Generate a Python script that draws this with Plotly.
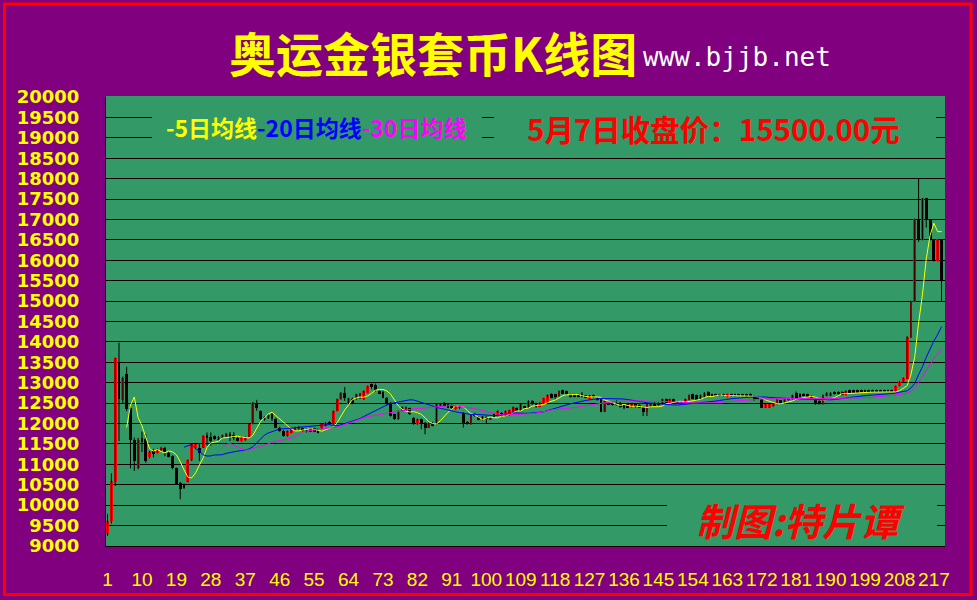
import plotly.graph_objects as go
import pandas as pd

# ---------------- data ----------------
day = list(range(1, 220))

open_p = [
    9300, 9614, 10580, 13510, 12580, 13210, 12390, 11590, 10900, 11640,
    11616, 11190, 11346, 11290, 11346, 11410, 11290, 11207, 10905, 10554,
    10510, 10578, 11101, 11395, 11412, 11412, 11720, 11672, 11690, 11600,
    11656, 11672, 11755, 11714, 11656, 11575, 11590, 11672, 11998, 12514,
    12310, 12082, 12130, 12228, 12122, 11901, 11819, 11697, 11779, 11836,
    11860, 11885, 11795, 11885, 11885, 11860, 11885, 11942, 12048, 11983,
    12310, 12595, 12759, 12473, 12595, 12595, 12620, 12595, 12759, 12963,
    12946, 12800, 12783, 12636, 12514, 12228, 12105, 12310, 12326, 12375,
    12146, 11983, 12105, 12024, 11901, 12024, 11983, 12432, 12514, 12473,
    12456, 12350, 12375, 12269, 12040, 11983, 12244, 12162, 12081, 12170,
    12105, 12244, 12203, 12269, 12187, 12203, 12285, 12391, 12310, 12432,
    12391, 12555, 12497, 12407, 12489, 12514, 12718, 12718, 12677, 12816,
    12800, 12718, 12718, 12718, 12734, 12693, 12595, 12702, 12636, 12595,
    12293, 12514, 12514, 12514, 12514, 12489, 12489, 12407, 12473, 12456,
    12407, 12293, 12407, 12514, 12514, 12497, 12595, 12497, 12595, 12538,
    12538, 12497, 12579, 12718, 12702, 12595, 12636, 12775, 12718, 12718,
    12718, 12718, 12652, 12718, 12718, 12718, 12718, 12718, 12734, 12677,
    12652, 12595, 12391, 12391, 12424, 12473, 12571, 12489, 12620, 12595,
    12759, 12734, 12734, 12718, 12677, 12595, 12555, 12473, 12677, 12677,
    12783, 12783, 12775, 12702, 12824, 12824, 12824, 12824, 12824, 12824,
    12824, 12824, 12824, 12824, 12824, 12824, 12783, 12922, 13030, 13086,
    14106, 14988, 17005, 16499, 17520, 17005, 16515, 15984, 16500,
]

high_p = [
    9786, 10782, 13616, 13980, 13150, 13390, 12430, 11656, 11650, 11800,
    11740, 11330, 11380, 11390, 11430, 11430, 11310, 11220, 10920, 10570,
    10530, 11120, 11510, 11500, 11500, 11710, 11780, 11780, 11710, 11690,
    11730, 11770, 11795, 11790, 11670, 11690, 11690, 12010, 12530, 12580,
    12320, 12180, 12230, 12280, 12140, 11920, 11840, 11830, 11880, 11920,
    11940, 11900, 11880, 11900, 11900, 11880, 12010, 12040, 12060, 12320,
    12610, 12770, 12897, 12630, 12636, 12730, 12750, 12810, 12930, 12979,
    12979, 12810, 12800, 12650, 12530, 12240, 12320, 12420, 12420, 12390,
    12160, 12120, 12120, 12040, 12040, 12040, 12500, 12500, 12530, 12490,
    12470, 12450, 12450, 12280, 12060, 12240, 12260, 12180, 12190, 12180,
    12160, 12260, 12320, 12280, 12320, 12340, 12420, 12400, 12480, 12440,
    12570, 12570, 12510, 12530, 12630, 12710, 12740, 12730, 12810, 12830,
    12810, 12730, 12730, 12730, 12775, 12700, 12700, 12710, 12650, 12610,
    12570, 12530, 12530, 12571, 12530, 12500, 12500, 12500, 12480, 12470,
    12420, 12480, 12490, 12530, 12520, 12610, 12610, 12610, 12610, 12550,
    12550, 12610, 12710, 12730, 12710, 12710, 12770, 12790, 12730, 12730,
    12730, 12730, 12730, 12730, 12730, 12730, 12730, 12730, 12740, 12690,
    12660, 12610, 12480, 12480, 12500, 12610, 12580, 12630, 12630, 12710,
    12783, 12740, 12740, 12730, 12690, 12610, 12570, 12710, 12770, 12770,
    12790, 12790, 12790, 12810, 12830, 12830, 12830, 12830, 12830, 12830,
    12830, 12830, 12830, 12830, 12830, 12830, 12930, 13040, 13130, 14140,
    15010, 17022, 17993, 17520, 17530, 17010, 16520, 16520, 16520,
]

low_p = [
    9247, 9550, 10470, 11570, 12500, 12300, 10900, 10840, 10880, 11300,
    11040, 11150, 11170, 11270, 11330, 11200, 11170, 10880, 10500, 10145,
    10400, 10560, 11080, 11380, 11080, 11400, 11460, 11460, 11600, 11590,
    11640, 11660, 11570, 11590, 11560, 11560, 11575, 11660, 11980, 12310,
    12090, 12070, 12110, 12060, 11890, 11800, 11680, 11680, 11760, 11820,
    11850, 11800, 11780, 11790, 11790, 11760, 11870, 11930, 11970, 11970,
    12300, 12580, 12554, 12460, 12473, 12580, 12600, 12580, 12740, 12840,
    12783, 12720, 12620, 12450, 12170, 12090, 12090, 12300, 12310, 12210,
    11970, 11970, 11860, 11738, 11890, 11930, 11970, 12420, 12420, 12380,
    12360, 12340, 12360, 11901, 11970, 11970, 12170, 12080, 12070, 12007,
    12090, 12150, 12190, 12170, 12170, 12190, 12270, 12300, 12300, 12360,
    12380, 12460, 12390, 12400, 12480, 12500, 12620, 12595, 12660, 12720,
    12700, 12640, 12640, 12640, 12640, 12620, 12580, 12640, 12560, 12280,
    12280, 12460, 12440, 12440, 12390, 12350, 12380, 12390, 12390, 12380,
    12187, 12187, 12400, 12420, 12440, 12490, 12500, 12490, 12530, 12480,
    12480, 12490, 12570, 12590, 12570, 12590, 12630, 12670, 12670, 12670,
    12670, 12670, 12640, 12660, 12660, 12670, 12660, 12640, 12660, 12560,
    12590, 12380, 12380, 12380, 12410, 12460, 12480, 12480, 12560, 12590,
    12630, 12640, 12670, 12640, 12610, 12460, 12460, 12460, 12670, 12670,
    12710, 12710, 12690, 12690, 12740, 12750, 12750, 12770, 12775, 12770,
    12770, 12770, 12770, 12770, 12770, 12775, 12775, 12910, 13020, 13080,
    14100, 14980, 16450, 16490, 16801, 16480, 15970, 15970, 14980,
]

close_p = [
    9614, 10594, 13616, 12590, 13110, 12350, 11590, 11080, 11600, 11560,
    11084, 11305, 11264, 11360, 11410, 11300, 11190, 10905, 10530, 10390,
    10420, 11101, 11493, 11493, 11290, 11697, 11656, 11575, 11616, 11672,
    11714, 11755, 11656, 11656, 11575, 11672, 11672, 11998, 12514, 12391,
    12106, 12163, 12212, 12106, 11901, 11820, 11697, 11819, 11860, 11901,
    11926, 11819, 11860, 11803, 11803, 11779, 12000, 12024, 11983, 12310,
    12595, 12759, 12636, 12620, 12514, 12718, 12740, 12800, 12922, 12897,
    12816, 12734, 12636, 12514, 12187, 12105, 12310, 12407, 12407, 12228,
    11983, 12105, 11983, 11901, 12024, 11942, 12489, 12489, 12432, 12391,
    12375, 12432, 12432, 11983, 11983, 12228, 12187, 12097, 12179, 12105,
    12146, 12170, 12310, 12187, 12310, 12326, 12407, 12310, 12473, 12375,
    12555, 12473, 12407, 12514, 12620, 12702, 12636, 12652, 12800, 12734,
    12718, 12652, 12652, 12652, 12652, 12636, 12693, 12652, 12571, 12293,
    12555, 12473, 12448, 12456, 12407, 12391, 12391, 12489, 12407, 12391,
    12293, 12473, 12473, 12432, 12456, 12595, 12514, 12595, 12538, 12489,
    12489, 12595, 12702, 12595, 12579, 12702, 12759, 12677, 12677, 12677,
    12677, 12677, 12718, 12669, 12669, 12677, 12669, 12652, 12669, 12571,
    12595, 12391, 12473, 12473, 12489, 12595, 12489, 12620, 12571, 12702,
    12636, 12652, 12677, 12652, 12620, 12473, 12473, 12702, 12759, 12759,
    12718, 12718, 12702, 12800, 12750, 12759, 12759, 12775, 12783, 12775,
    12775, 12775, 12775, 12775, 12775, 12783, 12922, 13030, 13125, 14130,
    15004, 17022, 16499, 17520, 17005, 16491, 15984, 16515, 15500,
]

tick_days = list(range(1, 218, 9))
price_ticks = list(range(9000, 20001, 500))
ma_periods = [5, 20, 30]
ma_colors = ["#FFFF00", "#0000FF", "#FF00FF"]

title_text = "奥运金银套币K线图"
site_text = "www.bjjb.net"
legend_labels = ["-5日均线", "-20日均线", "-30日均线"]
price_text = "5月7日收盘价：15500.00元"
credit_text = "制图:特片谭"

# ---------------- styling constants ----------------
PURPLE = "#800080"
GREEN = "#339966"
ML, MR, MT, MB = 106, 32, 97, 54
W, H = 977, 600
PW, PH = W - ML - MR, H - MT - MB


def px(x):
    return (x - ML) / PW


def py(y):
    return (H - MB - y) / PH


CJK = "Noto Sans CJK SC, Noto Sans, sans-serif"
NUM = "Liberation Sans, Arial, sans-serif"

fig = go.Figure()

# wicks (black)
wx, wy = [], []
for d, lo, hi in zip(day, low_p, high_p):
    wx += [d, d, None]
    wy += [lo, hi, None]
fig.add_trace(go.Scatter(x=wx, y=wy, mode="lines",
                         line=dict(color="#000000", width=1),
                         hoverinfo="skip", showlegend=False))

# bodies
base = [min(o, c) for o, c in zip(open_p, close_p)]
height = [abs(c - o) for o, c in zip(open_p, close_p)]
colors = ["#FF0000" if c >= o else "#000000" for o, c in zip(open_p, close_p)]
fig.add_trace(go.Bar(x=day, y=height, base=base, width=0.75,
                     marker=dict(color=colors, line=dict(width=0)),
                     showlegend=False))

# moving averages (drawn one day later, as in the reference)
cs = pd.Series(close_p, index=day, dtype=float)
for n, col in zip(ma_periods, ma_colors):
    ma = cs.rolling(n).mean().shift(1)
    fig.add_trace(go.Scatter(x=day, y=ma.tolist(), mode="lines",
                             line=dict(color=col, width=1),
                             showlegend=False, connectgaps=False))

fig.update_layout(
    width=W, height=H,
    margin=dict(l=ML, r=MR, t=MT, b=MB, pad=0, autoexpand=False),
    paper_bgcolor=PURPLE, plot_bgcolor=GREEN,
    showlegend=False, bargap=0,
    xaxis=dict(range=[0.6, 219.9], tickmode="array", tickvals=tick_days,
               ticktext=[str(t) for t in tick_days], tickangle=0,
               automargin=False,
               showgrid=False, zeroline=False, showline=True,
               linecolor="#000000", linewidth=1,
               ticks="outside", ticklen=16, tickcolor=PURPLE,
               tickfont=dict(family=NUM, size=19, color="#FFFF00")),
    yaxis=dict(range=[9000, 20000], tickmode="array", tickvals=price_ticks,
               ticktext=[str(t) for t in price_ticks],
               automargin=False,
               showgrid=True, gridcolor="#000000", gridwidth=1,
               zeroline=False, showline=True, linecolor="#000000",
               linewidth=1, ticks="outside", ticklen=22, tickcolor=PURPLE,
               tickfont=dict(family="DejaVu Sans, sans-serif", size=18,
                             color="#FFFF00", weight="bold")),
)

# hide the grid line on the top edge
fig.add_shape(type="line", xref="paper", yref="paper",
              x0=0, x1=1, y0=1, y1=1,
              line=dict(color=GREEN, width=2), layer="above")

# boxes that hide grid lines behind the texts
for x0, x1, y0, y1 in [(152, 482, 100, 150), (494, 936, 100, 150),
                       (667, 937, 490, 540)]:
    fig.add_shape(type="rect", xref="paper", yref="paper",
                  x0=px(x0), x1=px(x1), y0=py(y1), y1=py(y0),
                  line=dict(width=0), fillcolor=GREEN, layer="above")

# outer red border
fig.add_shape(type="rect", xref="paper", yref="paper",
              x0=px(4.5), x1=px(971), y0=py(594.5), y1=py(4),
              line=dict(color="#FF0000", width=3), fillcolor="rgba(0,0,0,0)",
              layer="above")

fig.add_annotation(xref="paper", yref="paper", x=px(433), y=py(51),
                   xanchor="center", yanchor="middle", showarrow=False,
                   text="<b>" + title_text + "</b>",
                   font=dict(family=CJK, size=47, color="#FFFF00"))
fig.add_annotation(xref="paper", yref="paper", x=px(641), y=py(57),
                   xanchor="left", yanchor="middle", showarrow=False,
                   text=site_text,
                   font=dict(family="DejaVu Sans Mono, monospace", size=26,
                             color="#FFFFFF"))
legend_html = "".join(
    '<span style="color:%s">%s</span>' % (c, t)
    for c, t in zip(ma_colors, legend_labels))
fig.add_annotation(xref="paper", yref="paper", x=px(164), y=py(127),
                   xanchor="left", yanchor="middle", showarrow=False,
                   text="<b>" + legend_html + "</b>",
                   font=dict(family=CJK, size=23, color="#FFFF00"))
fig.add_annotation(xref="paper", yref="paper", x=px(525), y=py(128),
                   xanchor="left", yanchor="middle", showarrow=False,
                   text="<b>" + price_text + "</b>",
                   font=dict(family=CJK, size=29.5, color="#FF0000"))
fig.add_annotation(xref="paper", yref="paper", x=px(800), y=py(519),
                   xanchor="center", yanchor="middle", showarrow=False,
                   text="<b><i>" + credit_text + "</i></b>",
                   font=dict(family=CJK, size=38, color="#FF0000"))

fig.write_html(
    "out.html",
    config={"displayModeBar": False},
    post_script="document.body.style.margin='0px';"
                "document.body.style.padding='0px';"
                "document.body.style.background='#800080';",
)
